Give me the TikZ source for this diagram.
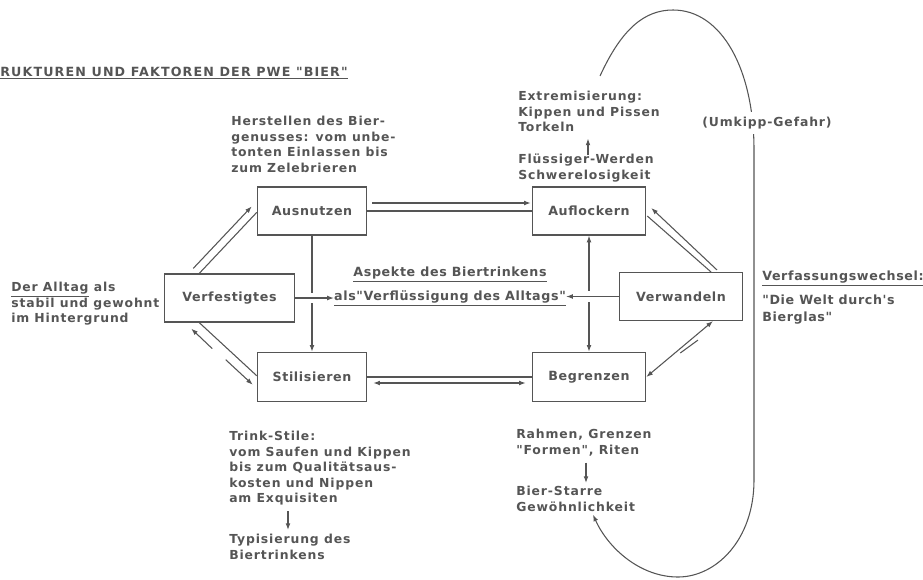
\documentclass[tikz,border=0pt]{standalone}
\usepackage{fontspec}
\setmainfont{DejaVu Sans}[LetterSpace=5, Ligatures=TeXOff]
\newfontfamily\notefam{DejaVu Sans}[LetterSpace=7, Ligatures=TeXOff]
\newfontfamily\titlefam{DejaVu Sans}[LetterSpace=9, Ligatures=TeXOff]
\usetikzlibrary{arrows.meta,calc}
\definecolor{ink}{HTML}{555555}
\newcommand{\notefont}{\notefam\fontsize{9.3}{11.6}\selectfont\bfseries}
\newcommand{\boxfont}{\fontsize{9.5}{11}\selectfont\bfseries}
\newcommand{\sidefont}{\fontsize{9.5}{12.7}\selectfont\bfseries}
\newcommand{\headfont}{\titlefam\fontsize{9.5}{11}\selectfont\bfseries}
\tikzset{
  box/.style={draw=ink, line width=0.9pt, minimum height=36pt, inner sep=2pt, text=ink, font=\boxfont},
  note/.style={anchor=north west, inner sep=0pt, align=left, text=ink, font=\notefont},
  link/.style={draw=ink, line width=0.8pt},
  head/.style={-{Latex[length=5pt,width=3.6pt]}},
  dhead/.style={{Latex[length=5pt,width=3.6pt]}-{Latex[length=5pt,width=3.6pt]}},
  crossgap/.style={preaction={draw=white, line width=8pt, arrows=-}}
}

\begin{document}
\begin{tikzpicture}[x=0.75pt,y=-0.75pt]
\useasboundingbox (0,0) rectangle (923,579);

% title, cut at the left edge
\node[note, anchor=base west, font=\headfont] (title) at (0,76) {\underline{RUKTUREN UND FAKTOREN DER PWE "BIER"}};

% the six boxes
\node[box, minimum width=82pt] (aus) at (312,211) {Ausnutzen};
\node[box, minimum width=85pt] (auf) at (589,211) {Auflockern};
\node[box, minimum width=97pt] (fest) at (229.5,298) {Verfestigtes};
\node[box, minimum width=92pt] (wand) at (681,296.5) {Verwandeln};
\node[box, minimum width=82pt, minimum height=37pt] (stil) at (312,377) {Stilisieren};
\node[box, minimum width=85pt, minimum height=37pt] (grenz) at (589,377) {Begrenzen};

% notes round the boxes
\node[note] (herst) at (231,116) {Herstellen des Bier-\\genusses: vom unbe-\\tonten Einlassen bis\\zum Zelebrieren};
\node[note] (extrem) at (518,91) {Extremisierung:\\Kippen und Pissen\\Torkeln};
\node[note] (fluess) at (518,154) {Flüssiger-Werden\\Schwerelosigkeit};
\node[note] (alltag) at (11,282) {\underline{Der Alltag} als\\stabil und gewohnt\\im Hintergrund};
\node[note] (trink) at (229,431) {Trink-Stile:\\vom Saufen und Kippen\\bis zum Qualitätsaus-\\kosten und Nippen\\am Exquisiten};
\node[note] (typ) at (229,534) {Typisierung des\\Biertrinkens};
\node[note] (rahmen) at (516,429) {Rahmen, Grenzen\\"Formen", Riten};
\node[note] (starre) at (516,486) {Bier-Starre\\Gewöhnlichkeit};
\node[note, font=\sidefont] (wechsel) at (762,271) {\underline{Verfassungswechsel:}};
\node[note, font=\sidefont] (welt) at (762,295) {"Die Welt durch's\\Bierglas"};
\node[note, anchor=base, font=\boxfont] (aspekt) at (450,276.5) {\underline{Aspekte des Biertrinkens}};
\node[note, anchor=base, font=\boxfont] (fluessig) at (450,300.5) {\underline{als"Verflüssigung des Alltags"}};

% double links
\draw[link] (aus) -- (auf);
\draw[link, head] ([shift={(5,-8)}]aus.east) -- ([shift={(-1,-8)}]auf.west);
\draw[link] ([shift={(35,0)}]fest.north west) -- ([shift={(0,26)}]aus.north west);
\draw[link, head] ([shift={(29,-5)}]fest.north west) -- ([shift={(-5,20)}]aus.north west);
\draw[link] ([shift={(35,0)}]fest.south west) -- ([shift={(0,24)}]stil.north west);
\draw[link, head] ([shift={(48,26)}]fest.south west) -- ([shift={(27,6)}]fest.south west);
\draw[link, head] ([shift={(-31,8)}]stil.north west) -- ([shift={(-4,33)}]stil.north west);
\draw[link] ([shift={(-32,0)}]wand.north east) -- ([shift={(1,5)}]auf.east);
\draw[link, head] ([shift={(-26,-2)}]wand.north east) -- ([shift={(5,-3)}]auf.east);
\draw[link, dhead] (grenz.east) -- ([shift={(-30,0)}]wand.south east);
\draw[link] ([shift={(34,-24)}]grenz.east) -- ([shift={(-45,19)}]wand.south east);
\draw[link] (stil) -- (grenz);
\draw[link, dhead] ([shift={(6,6)}]stil.east) -- ([shift={(-6,6)}]grenz.west);

% verticals, broken by the middle arrows
\draw[link, head] (aus) -- (stil);
\draw[link, dhead] (auf) -- (grenz);
\draw[link, head, crossgap] (fest.east) -- (fest.east -| fluessig.west);
\draw[link, head, crossgap] (wand.west) -- (wand.west -| fluessig.east);

% small arrows between notes
\draw[link, head] ([shift={(70,1)}]fluess.north west) -- ([shift={(70,6.5)}]extrem.south west);
\draw[link, head] ([shift={(59,6)}]trink.south west) -- ([shift={(59,-4)}]typ.north west);
\draw[link, head] ([shift={(70,6.5)}]rahmen.south west) -- ([shift={(70,-3)}]starre.north west);

% big loop
\coordinate (loopstart) at (600,76);
\draw[link, head] (loopstart) .. controls (622,28) and (645,10) .. (673,10)
  .. controls (722,10) and (754,70) .. (754,150) -- (754,480)
  .. controls (754,540) and (716,577) .. (678,577)
  .. controls (640,577) and (608,548) .. ([shift={(77,3)}]starre.south west);
\node[note, anchor=center, fill=white, inner sep=4pt] (kipp) at (767,123) {(Umkipp-Gefahr)};
\end{tikzpicture}
\end{document}
